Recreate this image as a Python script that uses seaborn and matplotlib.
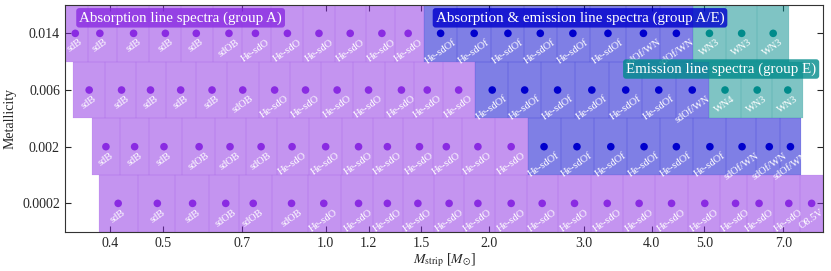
import numpy as np
import pandas as pd
import matplotlib
matplotlib.use('Agg')
import matplotlib.pyplot as plt
import seaborn as sns
from matplotlib.patches import Rectangle
from matplotlib.ticker import NullLocator

# metallicity rows (top to bottom)
metallicities = ['0.014', '0.006', '0.002', '0.0002']

mass_014 = [0.345, 0.383, 0.442, 0.506, 0.577, 0.663, 0.742, 0.850, 0.972, 1.11, 1.27, 1.42,
            1.63, 1.88, 2.17, 2.49, 2.86, 3.32, 3.86, 4.44, 5.11, 5.86, 6.70]
type_014 = ['sdB'] * 5 + ['sdOB'] + ['He-sdO'] * 6 + ['He-sdOf'] * 6 + ['sdOf/WN'] * 2 + ['WN3'] * 3

mass_006 = [0.366, 0.420, 0.475, 0.540, 0.617, 0.703, 0.805, 0.918, 1.05, 1.20, 1.38, 1.54,
            1.76, 2.03, 2.33, 2.68, 3.10, 3.58, 4.12, 4.75, 5.46, 6.26, 7.13]
type_006 = ['sdB'] * 5 + ['sdOB'] + ['He-sdO'] * 7 + ['He-sdOf'] * 6 + ['sdOf/WN'] + ['WN4', 'WN3', 'WN3']

mass_002 = [0.393, 0.444, 0.503, 0.584, 0.666, 0.760, 0.867, 1.00, 1.15, 1.30, 1.49, 1.67,
            1.91, 2.20, 2.53, 2.91, 3.36, 3.87, 4.44, 5.12, 5.87, 6.59, 7.21]
type_002 = ['sdB'] * 3 + ['sdOB'] * 3 + ['He-sdO'] * 8 + ['He-sdOf'] * 6 + ['sdOf/WN'] * 3

mass_0002 = [0.414, 0.489, 0.568, 0.654, 0.735, 0.865, 0.992, 1.15, 1.30, 1.48, 1.69, 1.91,
             2.20, 2.51, 2.88, 3.31, 3.79, 4.35, 5.01, 5.71, 6.31, 7.16, 7.89]
type_0002 = ['sdB'] * 3 + ['sdOB'] * 3 + ['He-sdO'] * 16 + ['O8.5V']

xticks = [0.4, 0.5, 0.7, 1.0, 1.2, 1.5, 2.0, 3.0, 4.0, 5.0, 7.0]

group_of = {'sdB': 'A', 'sdOB': 'A', 'He-sdO': 'A', 'O8.5V': 'A',
            'He-sdOf': 'A/E', 'sdOf/WN': 'A/E', 'WN3': 'E', 'WN4': 'E'}
colors = {'A': '#8a2be2', 'A/E': '#0000cd', 'E': '#008b8b'}

rows = []
for i, (masses, types) in enumerate([(mass_014, type_014), (mass_006, type_006),
                                     (mass_002, type_002), (mass_0002, type_0002)]):
    for m, t in zip(masses, types):
        rows.append({'row': i, 'mass': m, 'stype': t, 'group': group_of[t]})
df = pd.DataFrame(rows)

sns.set_style('ticks')
plt.rcParams['font.family'] = ['Liberation Serif', 'DejaVu Serif']
plt.rcParams['mathtext.fontset'] = 'stix'

fig, ax = plt.subplots(figsize=(8.31, 2.71), dpi=100)
fig.subplots_adjust(left=0.078, right=0.9907, top=0.9815, bottom=0.145)
ax.set_xscale('log')

# shaded cell behind every model, edges half way (in log) to the neighbours
for i, sub in df.groupby('row'):
    lm = np.log10(sub['mass'].values)
    mids = (lm[1:] + lm[:-1]) / 2
    left = np.concatenate([[lm[0] - (lm[1] - lm[0]) / 2], mids])
    right = np.concatenate([mids, [lm[-1] + (lm[-1] - lm[-2]) / 2]])
    for l, r, g in zip(left, right, sub['group']):
        ax.add_patch(Rectangle((10 ** l, i - 0.5), 10 ** r - 10 ** l, 1,
                               facecolor=colors[g], edgecolor=colors[g],
                               alpha=0.5, lw=0.12, zorder=1))

sns.scatterplot(data=df, x='mass', y='row', hue='group', palette=colors, s=30,
                edgecolor='none', legend=False, ax=ax, zorder=3)

for _, r in df.iterrows():
    ax.annotate(r['stype'], (r['mass'], r['row']), xytext=(0, -3),
                textcoords='offset points', ha='center', va='top', rotation=35,
                color='white', fontsize=7.5, zorder=4)

box_kw = dict(transform=ax.transAxes, color='white', fontsize=10.8, va='center', ha='left', zorder=5)
ax.text(0.019, 0.9435, 'Absorption line spectra (group A)',
        bbox=dict(boxstyle='round,pad=0.2', fc=colors['A'], ec='none', alpha=0.8), **box_kw)
ax.text(0.489, 0.9435, 'Absorption & emission line spectra (group A/E)',
        bbox=dict(boxstyle='round,pad=0.2', fc=colors['A/E'], ec='none', alpha=0.8), **box_kw)
ax.text(0.740, 0.7177, 'Emission line spectra (group E)',
        bbox=dict(boxstyle='round,pad=0.2', fc=colors['E'], ec='none', alpha=0.8), **box_kw)

ax.set_xlim(0.330, 8.29)
ax.set_ylim(3.5, -0.5)
ax.set_xticks(xticks)
ax.set_xticklabels([f'{t:.1f}' for t in xticks])
ax.xaxis.set_minor_locator(NullLocator())
ax.set_yticks(range(len(metallicities)))
ax.set_yticklabels(metallicities)
ax.tick_params(direction='in', top=True, right=True, length=4, labelsize=10)
ax.set_xlabel(r'$M_{\rm strip}$ [$M_{\odot}$]', fontsize=10, labelpad=1)
ax.set_ylabel('Metallicity', fontsize=10)
for s in ax.spines.values():
    s.set_color('#333333')

fig.savefig('out.png', dpi=100)
